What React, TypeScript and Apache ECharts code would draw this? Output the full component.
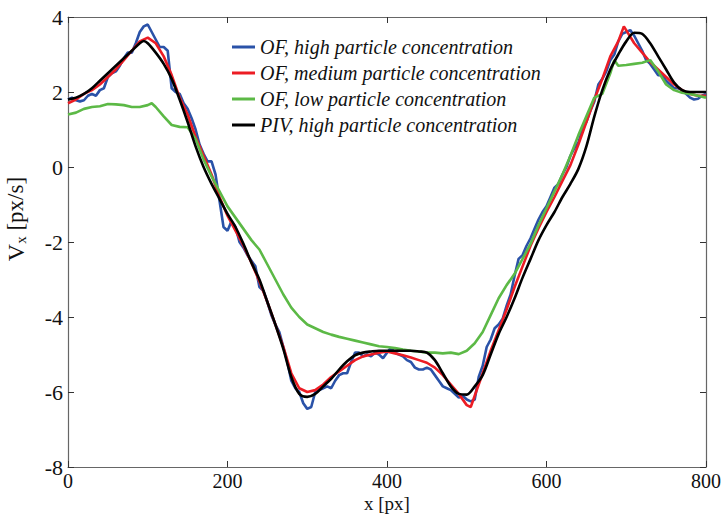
import React, { useEffect, useRef } from "react";
import * as echarts from "echarts";

const xTicks = [0, 200, 400, 600, 800];
const seriesNames = [
  "OF, high particle concentration",
  "OF, medium particle concentration",
  "OF, low particle concentration",
  "PIV, high particle concentration",
];

const xsHigh = [
  0, 5, 10, 15, 20, 25, 30, 35, 40, 45, 50, 55, 60, 65, 70, 75, 80, 85, 90, 95, 100, 105, 110, 115, 120, 125, 130, 135, 140, 145,
  150, 155, 160, 165, 170, 175, 180, 185, 190, 195, 200, 205, 210, 215, 220, 225, 230, 235, 240, 245, 250, 255, 260, 265, 270, 275,
  280, 285, 290, 295, 300, 305, 310, 315, 320, 325, 330, 335, 340, 345, 350, 355, 360, 365, 370, 375, 380, 385, 390, 395, 400, 405,
  410, 415, 420, 425, 430, 435, 440, 445, 450, 455, 460, 465, 470, 475, 480, 485, 490, 495, 500, 505, 510, 515, 520, 525, 530, 535,
  540, 545, 550, 555, 560, 565, 570, 575, 580, 585, 590, 595, 600, 605, 610, 615, 620, 625, 630, 635, 640, 645, 650, 655, 660, 665,
  670, 675, 680, 685, 690, 695, 700, 705, 710, 715, 720, 725, 730, 735, 740, 745, 750, 755, 760, 765, 770, 775, 780, 785, 790, 795, 800,
];
const yHigh = [
  1.8, 1.85, 1.78, 1.75, 1.78, 1.9, 1.95, 1.9, 2.05, 2.1, 2.4, 2.5, 2.55, 2.7, 2.9, 3.05, 3.05, 3.3, 3.6, 3.75, 3.8, 3.6, 3.4, 3.2, 3.2, 3.1, 2.1, 2.0, 1.95, 1.7,
  1.55, 1.3, 1.0, 0.6, 0.35, 0.15, 0.15, -0.2, -0.9, -1.6, -1.7, -1.45, -1.6, -2.0, -2.15, -2.35, -2.5, -2.65, -3.2, -3.3, -3.6, -3.95, -4.2, -4.4, -4.8, -5.2,
  -5.7, -5.9, -6.0, -6.3, -6.45, -6.4, -6.0, -5.95, -5.9, -5.85, -5.9, -5.7, -5.55, -5.5, -5.5, -5.2, -4.95, -4.95, -5.05, -5.0, -5.05, -4.95, -5.0, -5.1, -4.95, -4.82,
  -4.95, -5.0, -5.05, -5.15, -5.2, -5.35, -5.4, -5.4, -5.35, -5.4, -5.55, -5.7, -5.85, -5.9, -5.95, -6.05, -6.15, -6.1, -6.2, -6.25, -6.2, -5.6, -5.3, -4.8, -4.6, -4.3,
  -4.2, -4.05, -3.7, -3.4, -2.9, -2.45, -2.35, -2.1, -1.9, -1.65, -1.4, -1.2, -1.05, -0.8, -0.55, -0.45, -0.2, 0.0, 0.3, 0.5, 0.65, 1.0, 1.2, 1.5, 1.75, 2.2,
  2.35, 2.55, 2.85, 3.0, 3.35, 3.55, 3.6, 3.65, 3.5, 3.3, 3.1, 2.85, 2.75, 2.6, 2.45, 2.45, 2.3, 2.2, 2.1, 2.1, 2.05, 1.95, 1.85, 1.8, 1.82, 1.9, 1.95,
];

const xsMedium = [
  0, 10, 20, 30, 40, 50, 60, 70, 80, 90, 100, 110, 120, 130, 140, 150, 160, 170, 180, 190, 200, 210, 220, 230, 240, 250, 260, 270, 280, 290,
  300, 310, 320, 330, 340, 350, 360, 370, 380, 390, 400, 410, 420, 430, 440, 450, 460, 470, 480, 490, 500, 505, 510, 520, 530, 540, 550, 560, 570, 580,
  590, 600, 610, 620, 630, 640, 650, 660, 670, 680, 690, 697, 710, 720, 730, 740, 750, 760, 770, 780, 790, 800,
];
const yMedium = [
  1.7, 1.8, 1.95, 2.05, 2.2, 2.4, 2.6, 2.85, 3.1, 3.35, 3.45, 3.3, 2.95, 2.45, 1.85, 1.4, 0.8, 0.3, -0.2, -0.8, -1.3, -1.7, -2.1, -2.55, -3.05, -3.6, -4.2, -4.8, -5.5, -5.9,
  -6.0, -5.95, -5.8, -5.6, -5.45, -5.3, -5.15, -5.05, -5.0, -4.95, -4.92, -4.97, -5.02, -5.08, -5.15, -5.22, -5.35, -5.55, -5.8, -6.05, -6.35, -6.4, -6.1, -5.5, -4.9, -4.35, -3.8, -3.2, -2.65, -2.1,
  -1.63, -1.2, -0.8, -0.37, 0.05, 0.6, 1.2, 1.8, 2.35, 2.95, 3.35, 3.75, 3.3, 3.05, 2.8, 2.6, 2.4, 2.2, 2.05, 1.95, 1.9, 1.9,
];

const xsLow = [
  0, 10, 20, 30, 40, 50, 60, 70, 80, 90, 100, 105, 110, 120, 130, 140, 150, 160, 170, 180, 190, 200, 210, 220, 230, 240, 250, 260, 270, 280,
  290, 300, 310, 320, 330, 340, 350, 360, 370, 380, 390, 400, 410, 420, 430, 440, 450, 460, 470, 480, 490, 500, 510, 520, 530, 540, 550, 560, 570, 580,
  590, 600, 610, 620, 630, 640, 650, 660, 670, 680, 685, 690, 700, 710, 720, 730, 740, 750, 760, 770, 780, 790, 800,
];
const yLow = [
  1.4, 1.45, 1.55, 1.6, 1.62, 1.68, 1.67, 1.65, 1.6, 1.6, 1.65, 1.7, 1.6, 1.35, 1.12, 1.07, 1.06, 0.75, 0.2, -0.25, -0.65, -1.05, -1.35, -1.65, -1.95, -2.2, -2.6, -3.0, -3.4, -3.75,
  -4.0, -4.2, -4.3, -4.4, -4.47, -4.53, -4.58, -4.63, -4.68, -4.73, -4.78, -4.8, -4.83, -4.87, -4.9, -4.92, -4.95, -4.95, -4.97, -4.95, -4.99, -4.9, -4.7, -4.4, -3.95, -3.5, -3.15, -2.85, -2.45, -2.05,
  -1.55, -1.1, -0.65, -0.2, 0.3, 0.85, 1.35, 1.85, 1.95, 2.5, 2.85, 2.7, 2.72, 2.75, 2.78, 2.85, 2.55, 2.2, 2.05, 1.98, 1.95, 1.9, 1.85,
];

const xsPiv = [
  0, 10, 20, 30, 40, 50, 60, 70, 80, 90, 95, 100, 110, 120, 130, 140, 150, 160, 170, 180, 190, 200, 210, 220, 230, 240, 250, 260, 270, 280,
  290, 300, 310, 320, 330, 340, 350, 360, 370, 380, 390, 400, 410, 420, 430, 440, 450, 460, 470, 480, 490, 500, 510, 520, 530, 540, 550, 560, 570, 580,
  590, 600, 610, 620, 630, 640, 650, 660, 670, 680, 690, 700, 710, 720, 730, 740, 750, 760, 770, 780, 790, 800,
];
const yPiv = [
  1.8, 1.85, 1.95, 2.1, 2.3, 2.5, 2.7, 2.9, 3.1, 3.3, 3.36, 3.3, 3.05, 2.75, 2.35, 1.8, 1.2, 0.55, 0.0, -0.45, -0.85, -1.25, -1.6, -2.05, -2.55, -3.0, -3.6, -4.2, -4.85, -5.6,
  -6.05, -6.13, -6.05, -5.85, -5.65, -5.4, -5.18, -5.02, -4.95, -4.92, -4.9, -4.9, -4.9, -4.9, -4.9, -4.92, -4.95, -5.15, -5.5, -5.85, -6.05, -6.07, -5.85, -5.55, -5.0, -4.45, -4.0, -3.5, -2.95, -2.45,
  -1.95, -1.55, -1.2, -0.8, -0.45, -0.05, 0.55, 1.35, 2.05, 2.6, 3.0, 3.35, 3.58, 3.55, 3.3, 2.95, 2.6, 2.25, 2.05, 2.0, 2.0, 2.0,
];

const colors = ["#2a52a8", "#ec1c24", "#5cb946", "#000000"];

const zip = (xs: number[], ys: number[]) => xs.map((x, i) => [x, ys[i]]);

export default function App() {
  const ref = useRef<HTMLDivElement>(null);
  useEffect(() => {
    if (!ref.current) return;
    const chart = echarts.init(ref.current, null, { renderer: "svg" });
    const font = "Liberation Serif";
    const axisLine = { show: true, onZero: false, lineStyle: { color: "#666", width: 1.2 } };
    const tick = { show: true, inside: true, length: 6, lineStyle: { color: "#333" } };
    const datas = [zip(xsHigh, yHigh), zip(xsMedium, yMedium), zip(xsLow, yLow), zip(xsPiv, yPiv)];
    chart.setOption({
      animation: false,
      backgroundColor: "#fff",
      grid: { left: 68, right: 16, top: 17, bottom: 47, containLabel: false, outerBoundsMode: "none" },
      legend: {
        orient: "vertical",
        left: 227,
        top: 32,
        itemWidth: 23,
        itemHeight: 3,
        itemGap: 6,
        icon: "rect",
        data: seriesNames,
        textStyle: { fontFamily: font, fontStyle: "italic", fontSize: 20, color: "#111", lineHeight: 20 },
      },
      xAxis: [
        {
          type: "value",
          min: 0,
          max: 800,
          interval: 200,
          position: "bottom",
          axisLine,
          axisTick: tick,
          splitLine: { show: false },
          axisLabel: { fontFamily: font, fontSize: 20, color: "#111", margin: 4, lineHeight: 20 },
          name: "x [px]",
          nameLocation: "middle",
          nameGap: 27,
          nameMoveOverlap: false,
          nameTextStyle: { fontFamily: font, fontSize: 19, color: "#111", lineHeight: 19 },
        },
        {
          type: "value",
          min: 0,
          max: 800,
          interval: 200,
          position: "top",
          axisLine,
          axisTick: tick,
          splitLine: { show: false },
          axisLabel: { show: false },
        },
      ],
      yAxis: [
        {
          type: "value",
          min: -8,
          max: 4,
          interval: 2,
          position: "left",
          axisLine,
          axisTick: tick,
          splitLine: { show: false },
          axisLabel: { fontFamily: font, fontSize: 22, color: "#111", margin: 5 },
          name: "{v|V}{s|x}{n| [px/s]}",
          nameLocation: "middle",
          nameRotate: 90,
          nameGap: 40,
          nameMoveOverlap: false,
          nameTextStyle: {
            fontFamily: font,
            fontSize: 23,
            color: "#111",
            padding: [0, 0, 0, 46],
            rich: {
              v: { fontFamily: font, fontSize: 24, color: "#111" },
              s: { fontFamily: font, fontSize: 15, color: "#111", verticalAlign: "bottom", padding: [10, 0, 0, 0] },
              n: { fontFamily: font, fontSize: 23, color: "#111" },
            },
          },
        },
        {
          type: "value",
          min: -8,
          max: 4,
          interval: 2,
          position: "right",
          axisLine,
          axisTick: tick,
          splitLine: { show: false },
          axisLabel: { show: false },
        },
      ],
      series: seriesNames.map((name, i) => ({
        name,
        type: "line",
        data: datas[i],
        showSymbol: false,
        symbol: "none",
        smooth: i === 3 ? 0.3 : false,
        lineStyle: { color: colors[i], width: 2.6 },
        itemStyle: { color: colors[i] },
        z: 2 + i,
      })),
    });
    return () => chart.dispose();
  }, []);
  return <div ref={ref} style={{ width: 722, height: 514, position: "absolute", left: 0, top: 0 }} />;
}
